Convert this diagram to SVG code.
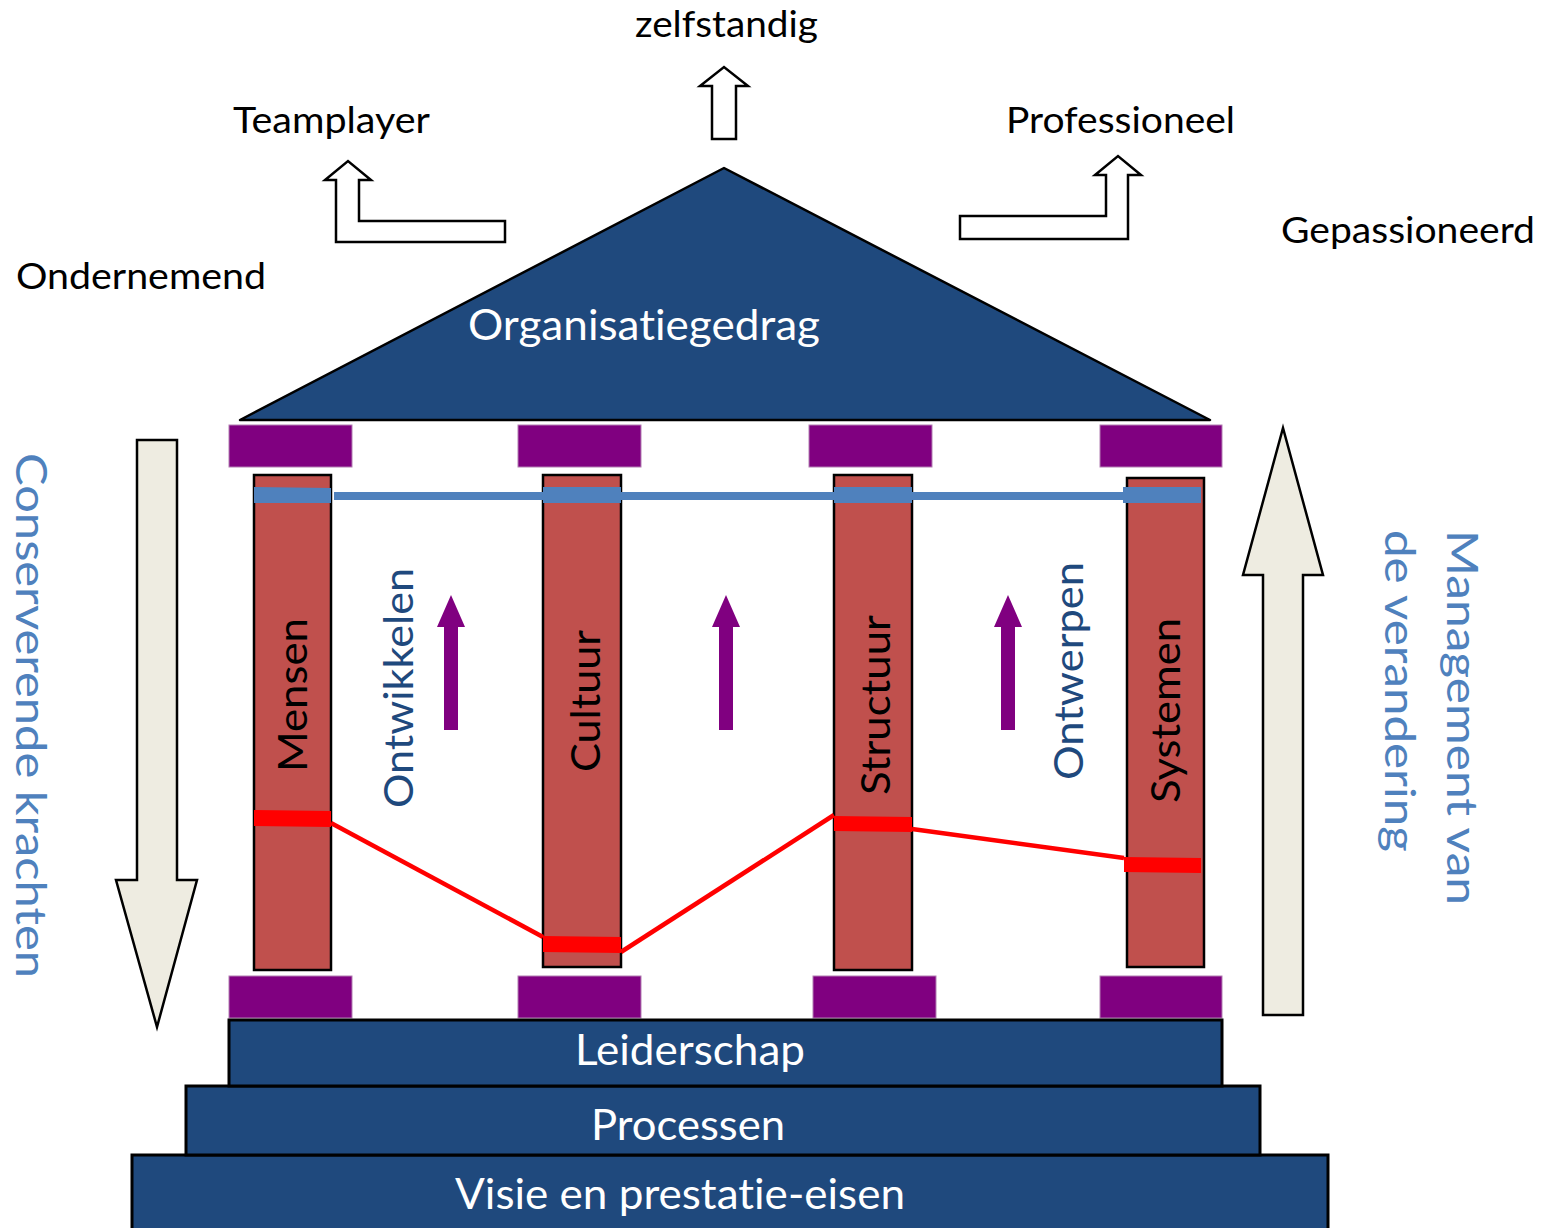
<svg xmlns="http://www.w3.org/2000/svg" width="1545" height="1228" viewBox="0 0 1545 1228">
<style>
text{font-family:Lato,"Noto Sans","Liberation Sans",sans-serif;font-variant-ligatures:none;font-feature-settings:"liga" 0,"dlig" 0}
.lbl{font-size:36px;fill:#000}
.wt{font-size:42px;fill:#fff}
.col{fill:#C0504D;stroke:#000;stroke-width:2.5}
.cap{fill:#800080;stroke:#B27FB2;stroke-width:1}
.step{fill:#1F497D;stroke:#000;stroke-width:3}
.big{fill:#EEECE1;stroke:#000;stroke-width:2.5}
.hol{fill:#fff;stroke:#000;stroke-width:2.5}
.pa{fill:#800080}
.ct{font-size:40px;fill:#000}
.lb{font-size:43px;fill:#4F81BD}
.db{font-size:40px;fill:#1F497D}
.blue{fill:#4F81BD}
.red{fill:#FF0000}
</style>
<rect width="1545" height="1228" fill="#fff"/>

<g id="label-zelfstandig"><text class="lbl" x="635" y="37" textLength="183" lengthAdjust="spacingAndGlyphs">zelfstandig</text></g>
<g id="label-teamplayer"><text class="lbl" x="233" y="133" textLength="197" lengthAdjust="spacingAndGlyphs">Teamplayer</text></g>
<g id="label-professioneel"><text class="lbl" x="1006" y="133" textLength="229" lengthAdjust="spacingAndGlyphs">Professioneel</text></g>
<g id="label-gepassioneerd"><text class="lbl" x="1281" y="243" textLength="254" lengthAdjust="spacingAndGlyphs">Gepassioneerd</text></g>
<g id="label-ondernemend"><text class="lbl" x="16" y="289" textLength="250" lengthAdjust="spacingAndGlyphs">Ondernemend</text></g>

<g id="arrows-top">
<polygon class="hol" points="712,139 736,139 736,86 748,86 724,67 700,86 712,86"/>
<polygon class="hol" points="505,242 336,242 336,180 325,180 348,161 371,180 359,180 359,221 505,221"/>
<polygon class="hol" points="960,216 1106,216 1106,175 1095,175 1118,156 1141,175 1128,175 1128,239 960,239"/>
</g>

<g id="roof">
<polygon points="724,168 1210,420 240,420" fill="#1F497D" stroke="#000" stroke-width="2.5" stroke-linejoin="round"/>
<text class="wt" x="468" y="340" textLength="352" lengthAdjust="spacingAndGlyphs">Organisatiegedrag</text>
</g>

<g id="capitals">
<rect class="cap" x="229" y="425" width="123" height="42"/>
<rect class="cap" x="518" y="425" width="123" height="42"/>
<rect class="cap" x="809" y="425" width="123" height="42"/>
<rect class="cap" x="1100" y="425" width="122" height="42"/>
</g>
<g id="bases">
<rect class="cap" x="229" y="976" width="123" height="42"/>
<rect class="cap" x="518" y="976" width="123" height="42"/>
<rect class="cap" x="813" y="976" width="123" height="42"/>
<rect class="cap" x="1100" y="976" width="122" height="42"/>
</g>

<g id="col-mensen">
<rect class="col" x="254" y="475" width="77" height="495"/>
<text class="ct" transform="translate(307,772) rotate(-90)" textLength="154" lengthAdjust="spacingAndGlyphs">Mensen</text>
</g>
<g id="col-cultuur">
<rect class="col" x="543" y="475" width="78" height="492"/>
<text class="ct" transform="translate(600,772) rotate(-90)" textLength="142" lengthAdjust="spacingAndGlyphs">Cultuur</text>
</g>
<g id="col-structuur">
<rect class="col" x="834" y="475" width="78" height="495"/>
<text class="ct" transform="translate(890,795) rotate(-90)" textLength="180" lengthAdjust="spacingAndGlyphs">Structuur</text>
</g>
<g id="col-systemen">
<rect class="col" x="1127" y="478" width="77" height="489"/>
<text class="ct" transform="translate(1180,803) rotate(-90)" textLength="185" lengthAdjust="spacingAndGlyphs">Systemen</text>
</g>

<g id="connectors">
<rect class="blue" x="334" y="492" width="790" height="8"/>
<polygon class="blue" points="254,487 331,488 331,503 254,503"/>
<rect class="blue" x="543" y="487" width="78" height="16"/>
<rect class="blue" x="834" y="487" width="78" height="16"/>
<rect class="blue" x="1123" y="487" width="78" height="16"/>
<polyline points="331,823 543,937" fill="none" stroke="#FF0000" stroke-width="4.5"/>
<polyline points="621,952 834,815" fill="none" stroke="#FF0000" stroke-width="4.5"/>
<polyline points="912,829 1124,858" fill="none" stroke="#FF0000" stroke-width="4.5"/>
<polygon class="red" points="254,810 331,811 331,827 254,826"/>
<polygon class="red" points="543,936 621,937 621,953 543,952"/>
<polygon class="red" points="834,816 912,817 912,832 834,831"/>
<polygon class="red" points="1124,857 1201,858 1201,873 1124,872"/>
<polygon class="pa" points="444,730 458,730 458,627 465,627 451,595 437,627 444,627"/>
<polygon class="pa" points="719,730 733,730 733,627 740,627 726,595 712,627 719,627"/>
<polygon class="pa" points="1001,730 1015,730 1015,627 1022,627 1008,595 994,627 1001,627"/>
</g>

<g id="label-ontwikkelen"><text class="db" transform="translate(413,808) rotate(-90)" textLength="240" lengthAdjust="spacingAndGlyphs">Ontwikkelen</text></g>
<g id="label-ontwerpen"><text class="db" transform="translate(1083,780) rotate(-90)" textLength="218" lengthAdjust="spacingAndGlyphs">Ontwerpen</text></g>

<g id="arrow-conserverend">
<polygon class="big" points="137,440 177,440 177,880 197,880 157,1027 116,880 137,880"/>
<text class="lb" transform="translate(16,453) rotate(90)" textLength="525" lengthAdjust="spacingAndGlyphs">Conserverende krachten</text>
</g>
<g id="arrow-management">
<polygon class="big" points="1263,1015 1303,1015 1303,575 1323,575 1283,428 1243,575 1263,575"/>
<text class="lb" transform="translate(1447,530) rotate(90)" textLength="375" lengthAdjust="spacingAndGlyphs">Management van</text>
<text class="lb" transform="translate(1385,530) rotate(90)" textLength="322" lengthAdjust="spacingAndGlyphs">de verandering</text>
</g>

<g id="step-visie">
<rect class="step" x="132" y="1155" width="1196" height="80"/>
<text class="wt" x="455" y="1209" textLength="450" lengthAdjust="spacingAndGlyphs">Visie en prestatie-eisen</text>
</g>
<g id="step-processen">
<rect class="step" x="186" y="1086" width="1074" height="69"/>
<text class="wt" x="591" y="1140" textLength="194" lengthAdjust="spacingAndGlyphs">Processen</text>
</g>
<g id="step-leiderschap">
<rect class="step" x="229" y="1020" width="993" height="66"/>
<text class="wt" x="575" y="1065" textLength="230" lengthAdjust="spacingAndGlyphs">Leiderschap</text>
</g>
</svg>
